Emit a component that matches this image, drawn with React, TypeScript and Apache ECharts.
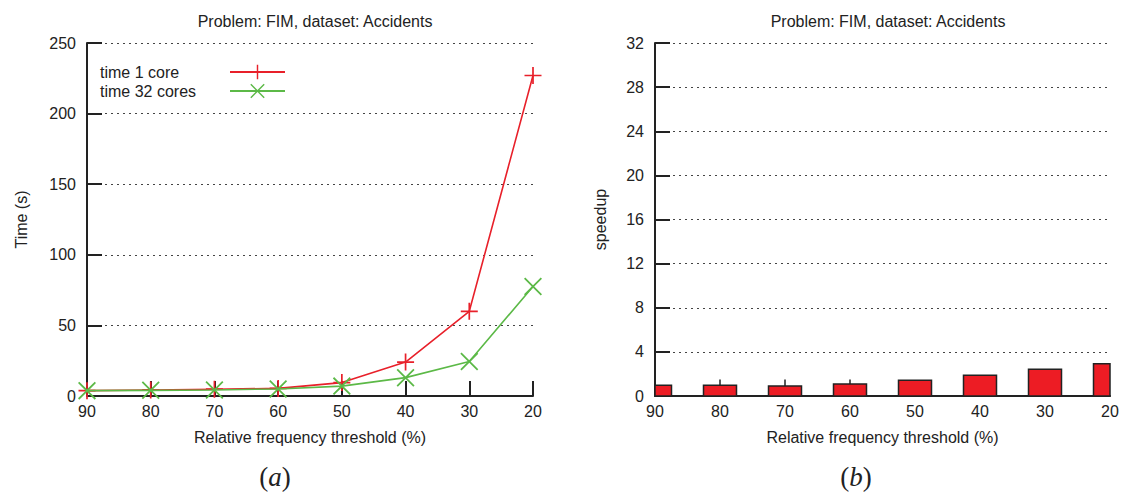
import React, { useEffect, useRef } from "react";
import * as echarts from "echarts";

const thresholds = [90, 80, 70, 60, 50, 40, 30, 20];
const categories = ["90", "80", "70", "60", "50", "40", "30", "20"];
const time1Core = [3.8, 4.3, 4.8, 5.4, 9.5, 24, 60, 227];
const time32Cores = [3.8, 4.0, 4.3, 5.0, 7, 13, 24.5, 77.5];
const speedup = [0.97, 0.97, 0.9, 1.09, 1.42, 1.87, 2.42, 2.93];
const speedupHigh = [0.97, 1.5, 1.5, 1.5, 1.45, 1.87, 2.42, 2.93];

const FONT = "'Liberation Sans', Arial, sans-serif";
const RED = "#e8202a";
const GREEN = "#5cb947";
const PLUS = "path://M4.5,0H5.5V4.5H10V5.5H5.5V10H4.5V5.5H0V4.5H4.5Z";
const CROSS =
  "path://M0,0.7L0.7,0L5,4.3L9.3,0L10,0.7L5.7,5L10,9.3L9.3,10L5,5.7L0.7,10L0,9.3L4.3,5Z";
const BAR_W = 33;
const FS = 16;

export default function App() {
  const ref = useRef<HTMLDivElement>(null);
  useEffect(() => {
    document.body.style.margin = "0";
    const chart = echarts.init(ref.current!, null, { renderer: "svg" });
    const axisLine = { show: true, lineStyle: { color: "#222", width: 2 } };
    const tickLabel = { color: "#222", fontSize: FS, fontFamily: FONT };
    const nameStyle = { color: "#222", fontSize: FS, fontFamily: FONT };
    const splitLine = {
      show: true,
      lineStyle: { color: "#444", type: [2, 4] as any, width: 1 },
    };
    const titleStyle = { fontSize: FS, fontWeight: "normal", color: "#222", fontFamily: FONT };
    const labelRich = {
      n: { fontSize: 27, fontFamily: "'Liberation Serif', serif", fill: "#222" },
      i: { fontSize: 27, fontFamily: "'Liberation Serif', serif", fontStyle: "italic", fill: "#222" },
    };
    chart.setOption({
      animation: false,
      textStyle: { fontFamily: FONT },
      title: [
        { text: "Problem: FIM, dataset: Accidents", left: 310, top: 8, textAlign: "center", textStyle: titleStyle },
        { text: "Problem: FIM, dataset: Accidents", left: 883, top: 8, textAlign: "center", textStyle: titleStyle },
      ],
      legend: {
        data: ["time 1 core", "time 32 cores"],
        orient: "vertical",
        left: 95,
        top: 59,
        align: "right",
        itemWidth: 55,
        itemHeight: 18,
        itemGap: 3,
        formatter: "{t|{name}}",
        textStyle: {
          color: "#222",
          fontFamily: FONT,
          rich: { t: { width: 125, fontSize: FS, color: "#222", fontFamily: FONT, align: "left" } },
        },
      },
      grid: [
        { left: 87, top: 43, width: 446, height: 353 },
        { left: 655, top: 43, width: 455, height: 353 },
      ],
      xAxis: [
        {
          gridIndex: 0,
          type: "value",
          inverse: true,
          min: 20,
          max: 90,
          interval: 10,
          axisLine,
          axisTick: { show: true, inside: true, length: 15, lineStyle: { color: "#222", width: 2 } },
          axisLabel: { ...tickLabel, margin: 7 },
          splitLine: { show: false },
          name: "Relative frequency threshold (%)",
          nameLocation: "middle",
          nameGap: 33,
          nameTextStyle: nameStyle,
        },
        {
          gridIndex: 1,
          type: "category",
          data: categories,
          boundaryGap: false,
          axisLine,
          axisTick: { show: false },
          axisLabel: { ...tickLabel, margin: 7 },
          splitLine: { show: false },
          name: "Relative frequency threshold (%)",
          nameLocation: "middle",
          nameGap: 33,
          nameTextStyle: nameStyle,
        },
      ],
      yAxis: [
        {
          gridIndex: 0,
          type: "value",
          min: 0,
          max: 250,
          interval: 50,
          axisLine,
          axisTick: { show: true, inside: true, length: 15, lineStyle: { color: "#222", width: 2 } },
          axisLabel: { ...tickLabel, margin: 11 },
          splitLine,
          name: "Time (s)",
          nameLocation: "middle",
          nameGap: 58,
          nameTextStyle: nameStyle,
        },
        {
          gridIndex: 1,
          type: "value",
          min: 0,
          max: 32,
          interval: 4,
          axisLine,
          axisTick: { show: true, inside: true, length: 15, lineStyle: { color: "#222", width: 2 } },
          axisLabel: { ...tickLabel, margin: 11 },
          splitLine,
          name: "speedup",
          nameLocation: "middle",
          nameGap: 47,
          nameTextStyle: nameStyle,
        },
      ],
      series: [
        {
          name: "time 1 core",
          type: "line",
          xAxisIndex: 0,
          yAxisIndex: 0,
          data: thresholds.map((t, i) => [t, time1Core[i]]),
          symbol: PLUS,
          symbolSize: 17,
          lineStyle: { color: RED, width: 1.6 },
          itemStyle: { color: RED },
          z: 3,
        },
        {
          name: "time 32 cores",
          type: "line",
          xAxisIndex: 0,
          yAxisIndex: 0,
          data: thresholds.map((t, i) => [t, time32Cores[i]]),
          symbol: CROSS,
          symbolSize: 18,
          lineStyle: { color: GREEN, width: 1.6 },
          itemStyle: { color: GREEN },
          z: 4,
        },
        {
          name: "speedup",
          type: "custom",
          xAxisIndex: 1,
          yAxisIndex: 1,
          data: categories.map((c, i) => [i, speedup[i]]),
          z: 4,
          renderItem: (params: any, api: any) => {
            const base = api.coord([api.value(0), 0]);
            const top = api.coord([api.value(0), api.value(1)]);
            const rect = {
              x: base[0] - BAR_W / 2,
              y: top[1],
              width: BAR_W,
              height: base[1] - top[1],
            };
            const cs = params.coordSys;
            const clipped = echarts.graphic.clipRectByRect(rect, {
              x: cs.x,
              y: cs.y,
              width: cs.width,
              height: cs.height,
            });
            if (!clipped) return null;
            return {
              type: "rect",
              shape: clipped,
              style: { fill: "#ed1c24", stroke: "#222", lineWidth: 1.5 },
            };
          },
        },
        {
          name: "speedup err",
          type: "custom",
          xAxisIndex: 1,
          yAxisIndex: 1,
          data: categories.map((c, i) => [i, speedup[i], speedupHigh[i]]),
          z: 5,
          renderItem: (params: any, api: any) => {
            const p1 = api.coord([api.value(0), api.value(1)]);
            const p2 = api.coord([api.value(0), api.value(2)]);
            return {
              type: "line",
              shape: { x1: p1[0], y1: p1[1], x2: p2[0], y2: p2[1] },
              style: { stroke: "#222", lineWidth: 1.5 },
            };
          },
        },
      ],
      graphic: [
        {
          type: "text",
          x: 275,
          y: 477,
          style: { text: "{n|(}{i|a}{n|)}", align: "center", verticalAlign: "middle", rich: labelRich },
        },
        {
          type: "text",
          x: 856,
          y: 477,
          style: { text: "{n|(}{i|b}{n|)}", align: "center", verticalAlign: "middle", rich: labelRich },
        },
      ],
    });
    return () => chart.dispose();
  }, []);
  return <div ref={ref} style={{ width: 1127, height: 495 }} />;
}
